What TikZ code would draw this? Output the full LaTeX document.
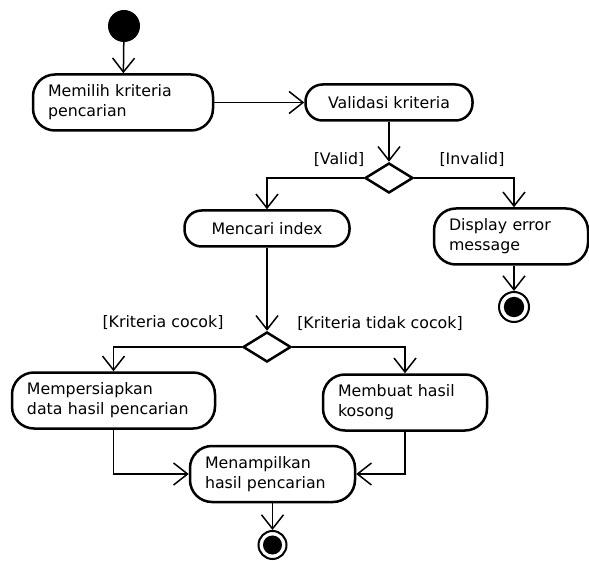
\documentclass[tikz,border=0pt]{standalone}
\usepackage{fontspec}
\setmainfont{DejaVu Sans}
\usetikzlibrary{arrows.meta,shapes.geometric}
\begin{document}
\begin{tikzpicture}[x=1pt,y=-1pt,
  font=\fontsize{15.8}{20}\selectfont,
  onebox/.style={draw, line width=2.5pt, rounded corners=17pt, minimum height=36pt, inner xsep=8pt},
  twobox/.style={draw, line width=2.5pt, rounded corners=22pt, minimum height=56pt, inner xsep=15pt, inner ysep=2pt, align=left},
  decision/.style={diamond, draw, line width=2.5pt, minimum width=48pt, minimum height=30pt, inner sep=0pt},
  initial/.style={circle, fill=black, minimum size=32pt, inner sep=0pt},
  final/.style={circle, draw, line width=2pt, minimum size=#1, inner sep=0pt,
    path picture={\fill[black] (path picture bounding box.center) circle (0.34*#1);}},
  guard/.style={inner sep=1pt},
  flow/.style={line width=1.5pt, -{Straight Barb[length=14pt,width=22pt]}}
]
\path[fill=white] (0,0) rectangle (589,561);
\useasboundingbox (0,0) rectangle (589,561);

% activities
\node[initial] (start) at (124,26) {};
\node[twobox, text width=150pt] (memilih) at (123,102.5) {Memilih kriteria\\pencarian};
\node[onebox, minimum width=167pt] (validasi) at (389,102.5) {Validasi kriteria};
\node[decision] (d1) at (389,178) {};
\node[onebox, minimum width=165pt] (mencari) at (267,228.5) {Mencari index};
\node[twobox, text width=124pt] (display) at (511,236.5) {Display error\\message};
\node[final=30pt] (end1) at (514,307) {};
\node[decision] (d2) at (267,347) {};
\node[twobox, text width=173pt] (siap) at (113.5,400.5) {Mempersiapkan\\data hasil pencarian};
\node[twobox, text width=134pt] (kosong) at (405,402.5) {Membuat hasil\\kosong};
\node[twobox, text width=135pt] (tampil) at (272.5,474) {Menampilkan\\hasil pencarian};
\node[final=28pt] (end2) at (272.5,545) {};

% guards
\node[guard] (gvalid) at (339,160) {[Valid]};
\node[guard] (ginvalid) at (472,160) {[Invalid]};
\node[guard] (gcocok) at (163,323) {[Kriteria cocok]};
\node[guard] (gtidak) at (380,324) {[Kriteria tidak cocok]};

% control flows
\draw[flow] (start) -- (memilih);
\draw[flow] (memilih) -- (validasi);
\draw[flow] (validasi) -- (d1);
\draw[flow] (d1.west) -| (mencari.north);
\draw[flow] (d1.east) -| ([xshift=3pt]display.north);
\draw[flow] ([xshift=3pt]display.south) -- (end1.north);
\draw[flow] (mencari) -- (d2);
\draw[flow] (d2.west) -| (siap.north);
\draw[flow] (d2.east) -| (kosong.north);
\draw[flow] (siap.south) |- (tampil.west);
\draw[flow] (kosong.south) |- (tampil.east);
\draw[flow] (tampil) -- (end2);
\end{tikzpicture}
\end{document}
